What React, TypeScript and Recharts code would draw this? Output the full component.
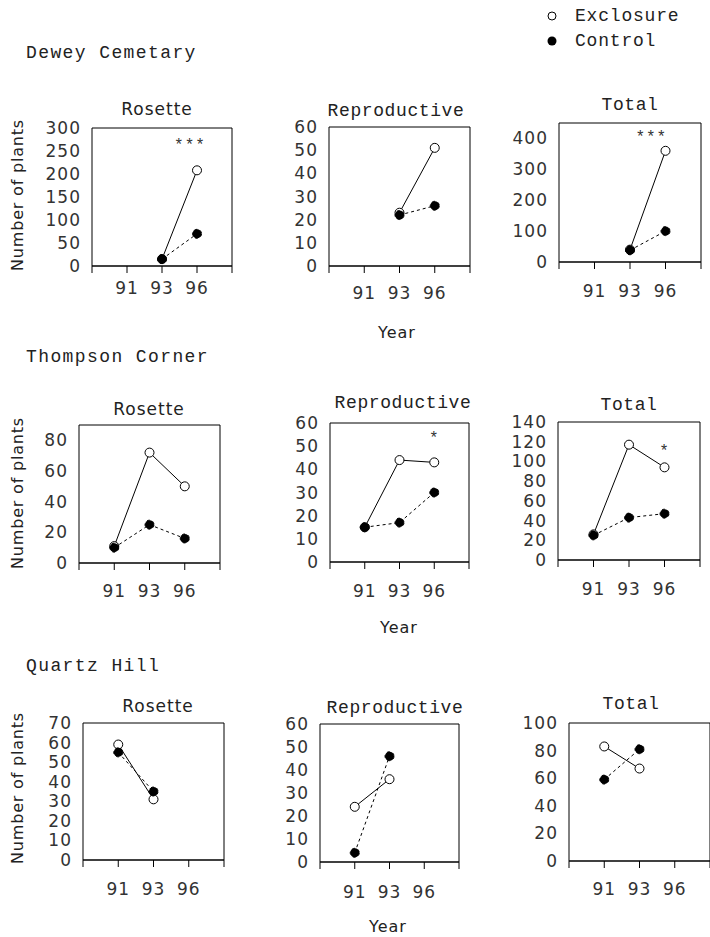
import React from 'react';
import { LineChart, Line, XAxis, YAxis, ReferenceDot } from 'recharts';

// ---------- data ----------
const years = ['91', '93', '96'];
const xPositions = [1, 2, 3];

// Dewey Cemetary
const deweyRosetteExcl = [null, 15, 208];
const deweyRosetteCtrl = [null, 15, 70];
const deweyReproExcl = [null, 23, 51];
const deweyReproCtrl = [null, 22, 26];
const deweyTotalExcl = [null, 40, 360];
const deweyTotalCtrl = [null, 38, 100];

// Thompson Corner
const thompsonRosetteExcl = [11, 72, 50];
const thompsonRosetteCtrl = [10, 25, 16];
const thompsonReproExcl = [15, 44, 43];
const thompsonReproCtrl = [15, 17, 30];
const thompsonTotalExcl = [26, 117, 94];
const thompsonTotalCtrl = [25, 43, 47];

// Quartz Hill
const quartzRosetteExcl = [59, 31, null];
const quartzRosetteCtrl = [55, 35, null];
const quartzReproExcl = [24, 36, null];
const quartzReproCtrl = [4, 46, null];
const quartzTotalExcl = [83, 67, null];
const quartzTotalCtrl = [59, 81, null];

// y ticks
const ticks0to300 = [0, 50, 100, 150, 200, 250, 300];
const ticks0to60 = [0, 10, 20, 30, 40, 50, 60];
const ticks0to400 = [0, 100, 200, 300, 400];
const ticks0to80 = [0, 20, 40, 60, 80];
const ticks0to140 = [0, 20, 40, 60, 80, 100, 120, 140];
const ticks0to70 = [0, 10, 20, 30, 40, 50, 60, 70];
const ticks0to100 = [0, 20, 40, 60, 80, 100];

const siteNames = ['Dewey Cemetary', 'Thompson Corner', 'Quartz Hill'];
const panelTitles = ['Rosette', 'Reproductive', 'Total'];
const legendLabels = ['Exclosure', 'Control'];
const yAxisTitle = 'Number of plants';
const xAxisTitle = 'Year';

// ---------- layout ----------
const SANS = 'DejaVu Sans, sans-serif';
const MONO = 'Liberation Mono, DejaVu Sans Mono, monospace';

type Panel = {
  excl: (number | null)[];
  ctrl: (number | null)[];
  yMax: number;
  yTicks: number[];
  bx: number; by: number; w: number; h: number;
  xGap: number;
  stars?: { x: number; y: number; text: string };
  title: string;
  titleX: number; titleY: number; titleSans: boolean;
};

const panels: Panel[] = [
  { excl: deweyRosetteExcl, ctrl: deweyRosetteCtrl, yMax: 300, yTicks: ticks0to300,
    bx: 92, by: 128, w: 139, h: 138, xGap: 16, stars: { x: 2.8, y: 270, text: '***' },
    title: panelTitles[0], titleX: 157, titleY: 115, titleSans: true },
  { excl: deweyReproExcl, ctrl: deweyReproCtrl, yMax: 60, yTicks: ticks0to60,
    bx: 329, by: 127, w: 140, h: 139, xGap: 21,
    title: panelTitles[1], titleX: 396, titleY: 116, titleSans: false },
  { excl: deweyTotalExcl, ctrl: deweyTotalCtrl, yMax: 450, yTicks: ticks0to400,
    bx: 559, by: 123, w: 141, h: 139, xGap: 23, stars: { x: 2.6, y: 415, text: '***' },
    title: panelTitles[2], titleX: 630, titleY: 110, titleSans: false },

  { excl: thompsonRosetteExcl, ctrl: thompsonRosetteCtrl, yMax: 90, yTicks: ticks0to80,
    bx: 79, by: 425, w: 140, h: 138, xGap: 22,
    title: panelTitles[0], titleX: 149, titleY: 415, titleSans: true },
  { excl: thompsonReproExcl, ctrl: thompsonReproCtrl, yMax: 60, yTicks: ticks0to60,
    bx: 330, by: 423, w: 138, h: 139, xGap: 23, stars: { x: 3, y: 55, text: '*' },
    title: panelTitles[1], titleX: 403, titleY: 408, titleSans: false },
  { excl: thompsonTotalExcl, ctrl: thompsonTotalCtrl, yMax: 140, yTicks: ticks0to140,
    bx: 558, by: 422, w: 141, h: 138, xGap: 23, stars: { x: 3, y: 114, text: '*' },
    title: panelTitles[2], titleX: 629, titleY: 410, titleSans: false },

  { excl: quartzRosetteExcl, ctrl: quartzRosetteCtrl, yMax: 70, yTicks: ticks0to70,
    bx: 83, by: 723, w: 140, h: 137, xGap: 23,
    title: panelTitles[0], titleX: 158, titleY: 712, titleSans: true },
  { excl: quartzReproExcl, ctrl: quartzReproCtrl, yMax: 60, yTicks: ticks0to60,
    bx: 320, by: 724, w: 138, h: 138, xGap: 24,
    title: panelTitles[1], titleX: 395, titleY: 713, titleSans: false },
  { excl: quartzTotalExcl, ctrl: quartzTotalCtrl, yMax: 100, yTicks: ticks0to100,
    bx: 569, by: 723, w: 140, h: 138, xGap: 22,
    title: panelTitles[2], titleX: 631, titleY: 709, titleSans: false },
];

const LW = 62; // left axis width
const TM = 14; // top margin
const RM = 1;  // right margin
const BH = 45; // bottom axis height

const tickStyle = { fontSize: 17, fontFamily: SANS, fill: '#333', letterSpacing: 1 };

function PanelChart({ p }: { p: Panel }) {
  const data = xPositions.map((x, i) => ({ x, year: years[i], excl: p.excl[i], ctrl: p.ctrl[i] }));
  const W = LW + p.w + 1 + RM;
  const H = TM + 1 + p.h + BH;
  const fmtX = (v: number) => (v >= 1 && v <= 3 ? years[v - 1] : '');
  return (
    <div style={{ position: 'absolute', left: p.bx - LW, top: p.by - TM - 1, width: W, height: H }}>
      <LineChart width={W} height={H} data={data} margin={{ top: TM, right: RM, bottom: 0, left: 0 }}>
        <XAxis xAxisId="t" orientation="top" dataKey="x" type="number" domain={[0, 4]} ticks={[0, 1, 2, 3, 4]}
          height={1} tickLine={false} tickFormatter={() => ''} axisLine={{ stroke: '#000', strokeWidth: 1 }} />
        <XAxis xAxisId="b" dataKey="x" type="number" domain={[0, 4]} ticks={[0, 1, 2, 3, 4]} height={BH}
          tickFormatter={fmtX} tickSize={7} tickMargin={p.xGap - 7}
          tickLine={{ stroke: '#000', strokeWidth: 1 }} axisLine={{ stroke: '#000', strokeWidth: 1.5 }}
          tick={tickStyle} interval={0} />
        <YAxis yAxisId="l" type="number" domain={[0, p.yMax]} ticks={p.yTicks} width={LW}
          tickLine={false} tickSize={0} tickMargin={11} axisLine={{ stroke: '#000', strokeWidth: 1 }}
          tick={tickStyle} interval={0} />
        <YAxis yAxisId="r" orientation="right" mirror type="number" domain={[0, p.yMax]} ticks={p.yTicks}
          width={1} tickSize={7} tickFormatter={() => ''} tickLine={{ stroke: '#000', strokeWidth: 1 }}
          axisLine={{ stroke: '#000', strokeWidth: 1 }} interval={0} />
        <Line xAxisId="b" yAxisId="l" dataKey="excl" stroke="#000" strokeWidth={1} isAnimationActive={false}
          dot={{ r: 4.5, fill: '#fff', stroke: '#000', strokeWidth: 1 }} activeDot={false} />
        <Line xAxisId="b" yAxisId="l" dataKey="ctrl" stroke="#000" strokeWidth={1} strokeDasharray="3 3"
          isAnimationActive={false} dot={{ r: 4.5, fill: '#000', stroke: '#000', strokeWidth: 1 }} activeDot={false} />
        {p.stars && (
          <ReferenceDot xAxisId="b" yAxisId="l" x={p.stars.x} y={p.stars.y} r={0}
            shape={(s: any) => (
              <text x={s.cx} y={s.cy + 8} textAnchor="middle" fontSize={16} fontFamily={MONO} fill="#333"
                letterSpacing={1}>{p.stars!.text}</text>
            )} />
        )}
      </LineChart>
    </div>
  );
}

const rowTitleY = [58, 362, 671];
const yTitleCenters = [195, 493, 788];
const xTitlePos = [{ x: 397, y: 338 }, { x: 399, y: 633 }, { x: 388, y: 932 }];

export default function App() {
  return (
    <div style={{ position: 'absolute', left: 0, top: 0, width: 710, height: 937, background: '#fff', overflow: 'hidden' }}>
      {panels.map((p, i) => <PanelChart key={i} p={p} />)}
      <svg width={710} height={937} style={{ position: 'absolute', left: 0, top: 0, pointerEvents: 'none' }}>
        {/* legend */}
        <circle cx={552} cy={16} r={4} fill="#fff" stroke="#000" strokeWidth={1} />
        <circle cx={552} cy={41} r={4.5} fill="#000" />
        <text x={575} y={21} fontFamily={MONO} fontSize={18} letterSpacing={0.8} fill="#222">{legendLabels[0]}</text>
        <text x={575} y={46} fontFamily={MONO} fontSize={18} letterSpacing={0.8} fill="#222">{legendLabels[1]}</text>
        {/* row titles */}
        {siteNames.map((s, i) => (
          <text key={s} x={26} y={rowTitleY[i]} fontFamily={MONO} fontSize={18} letterSpacing={1.4} fill="#222">{s}</text>
        ))}
        {/* panel titles */}
        {panels.map((p, i) => (
          <text key={'t' + i} x={p.titleX} y={p.titleY} textAnchor="middle"
            fontFamily={p.titleSans ? SANS : MONO} fontSize={p.titleSans ? 17 : 18}
            letterSpacing={p.titleSans ? 1 : 0.6} fill="#222">{p.title}</text>
        ))}
        {/* y titles */}
        {yTitleCenters.map((c, i) => (
          <text key={'y' + i} x={23} y={c} transform={`rotate(-90 23 ${c})`} textAnchor="middle"
            fontFamily={SANS} fontSize={16} letterSpacing={0.8} fill="#222">{yAxisTitle}</text>
        ))}
        {/* x titles */}
        {xTitlePos.map((q, i) => (
          <text key={'x' + i} x={q.x} y={q.y} textAnchor="middle" fontFamily={SANS} fontSize={16}
            letterSpacing={1} fill="#222">{xAxisTitle}</text>
        ))}
      </svg>
    </div>
  );
}
